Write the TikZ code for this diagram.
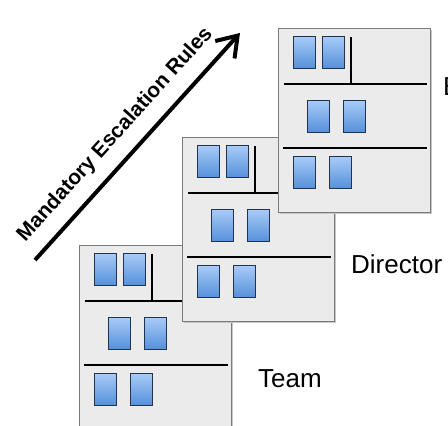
\documentclass[tikz,border=0pt]{standalone}
\usepackage{fontspec}
\setmainfont{Liberation Sans}
\usepackage{tikz}
\usetikzlibrary{arrows.meta}
\definecolor{noteTop}{HTML}{A9CCF8}
\definecolor{noteBot}{HTML}{5590DA}
\definecolor{noteEdge}{HTML}{22344D}
\definecolor{boardFill}{HTML}{EBEBEB}
\definecolor{boardEdge}{HTML}{7A7A7A}
\tikzset{
	note/.style={draw=noteEdge, line width=.9pt, top color=noteTop, bottom color=noteBot},
	lane/.style={line width=1.6pt},
	lbl/.style={font=\fontsize{26}{30}\selectfont, anchor=base west, inner sep=0pt}
}
\newcommand{\sticky}[2]{
	\draw[note](#1, #2) rectangle ++(22, 32.5)
}
\newcommand{\kanban}[2]{
	\begin{scope}[shift={(#1, #2)}]
		\fill[black!22](1.5, 1.5) rectangle (153.5, 185.5);
		\draw[boardEdge, fill=boardFill](0, 0) rectangle (152, 184);
		\sticky{15}{8}; \sticky{44}{8};
		\draw[lane](73, 9)--(73, 56);
		\draw[lane](6, 56)--(149, 56);
		\sticky{29}{72}; \sticky{65}{72};
		\draw[lane](5, 120)--(149, 120);
		\sticky{15}{128}; \sticky{51}{128};
	\end{scope}
}

\begin{document}
\begin{tikzpicture}[x=1pt, y=-1pt]
	\useasboundingbox(0, 0) rectangle (448, 426);
	\kanban{79}{245}
	\kanban{182}{137}
	\kanban{278}{28}
	\node[lbl](team) at (258, 387) {Team};
	\node[lbl](director) at (351, 273) {Director};
	\node[lbl](exec) at (443, 95) {E};
	% escalation arrow
	\coordinate (low) at (35, 260);
	\coordinate (high) at (240, 33);
	\draw[line width=4pt, -{Straight Barb[length=19pt, width=26pt]}](low)--node[pos=.48, sloped, anchor=base, yshift=19pt, font=\bfseries\fontsize{21}{24}\selectfont](rules){Mandatory Escalation Rules}(high);
\end{tikzpicture}
\end{document}
